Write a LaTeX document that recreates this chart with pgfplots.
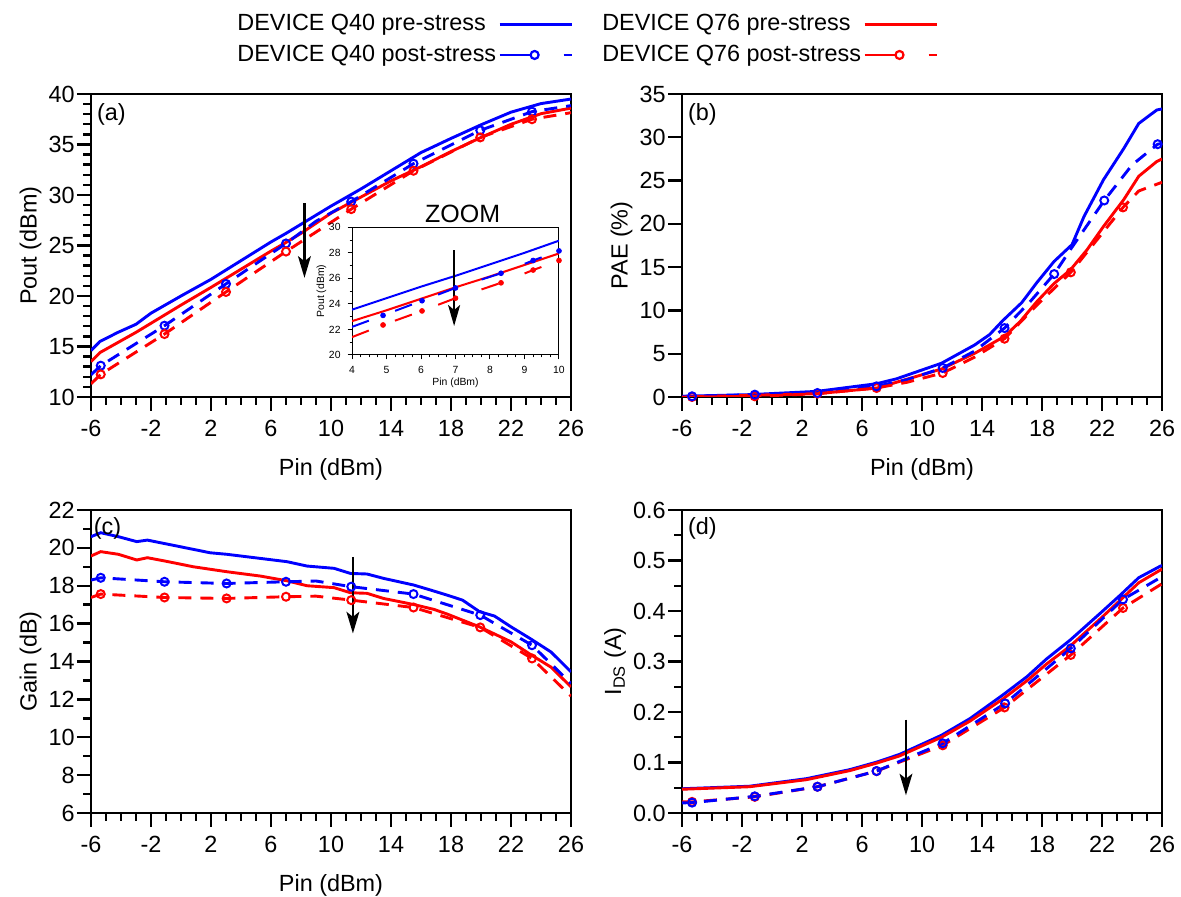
\documentclass[border=0pt]{standalone}
\usepackage{fontspec}
\setmainfont{Liberation Sans}
\usepackage{pgfplots}
\pgfplotsset{compat=1.18}
\usetikzlibrary{arrows.meta}
\newcommand{\mf}{\fontsize{11.7}{14}\selectfont}
\newcommand{\tinyf}{\fontsize{5.2}{6.2}\selectfont}
\definecolor{qb}{RGB}{0,0,255}
\definecolor{qr}{RGB}{255,0,0}
\tikzset{arr/.style={black, line width=1.15pt, -{Stealth[length=10.8pt, width=6.4pt, inset=2.5pt]}}}

\pgfplotsset{
 panel/.style={
  scale only axis, width=240pt, height=151.5pt, anchor=south west,
  xmin=-6, xmax=26, xtick={-6,-2,...,26}, minor x tick num=3,
  tick align=outside, tick pos=left,
  major tick length=7pt, minor tick length=3.8pt,
  axis line style={line width=1.35pt},
  every tick/.append style={black, line width=1.2pt},
  tick label style={font=\mf},
  label style={font=\mf},
  /pgf/number format/assume math mode=true,
  xticklabel style={inner sep=0pt, text height=8.4pt, text depth=0pt, yshift=-4.25pt},
  yticklabel style={inner sep=0pt, xshift=-1pt},
  xlabel style={at={(axis description cs:0.5,-0.2607)}, anchor=base},
 },
 pre/.style={line width=1.45pt, solid},
 post/.style={line width=1.45pt, dash pattern=on 6.5pt off 4.5pt},
 mk/.style={only marks, mark=o, mark size=2pt, mark options={solid, line width=1pt}},
 preleg/.style={legend image code/.code={\draw[##1] (0pt,0pt) -- (36pt,0pt);}},
 postleg/.style={legend image code/.code={
   \draw[##1, solid] (0pt,0pt) -- (15pt,0pt);
   \draw[##1, solid, line width=1.1pt, fill=white] (17.5pt,0pt) circle (2pt);
   \draw[##1, solid] (32pt,0pt) -- (36pt,0pt);}},
}

\begin{document}
\begin{tikzpicture}
\useasboundingbox (0,0) rectangle (590.5pt,448.5pt);

% ---------------- (a) ----------------
\begin{axis}[panel, at={(45.5pt,250pt)},
  ymin=10, ymax=40, ytick={10,15,...,40}, minor y tick num=4,
  xlabel={Pin (dBm)}, ylabel={Pout (dBm)},
  legend columns=2, legend plot pos=right, legend cell align=left,
  legend style={at={(0.2958,1.277)}, anchor=north west, draw=none, fill=none,
    inner sep=0pt, font=\mf, row sep=1.75pt, column sep=-1pt,
    /tikz/every even column/.append style={column sep=12.6pt}},
]
\addplot[pre, qb, preleg] coordinates {(-6,14.6) (-5.4,15.5) (-4.2,16.4) (-3,17.2) (-2,18.3) (0,20.0) (2,21.65) (4,23.5) (6,25.35) (7,26.2) (8,27.1) (10,28.9) (12,30.6) (14,32.4) (16,34.2) (18,35.6) (20,36.95) (22,38.2) (24,39.05) (26,39.5)};
\addlegendentry{DEVICE Q40 pre-stress}
\addplot[pre, qr, preleg] coordinates {(-6,13.5) (-5.4,14.4) (-3,16.4) (-2,17.3) (0,19.1) (2,20.85) (4,22.65) (6,24.45) (7,25.3) (8,26.2) (10,28.2) (12,29.8) (14,31.4) (16,32.8) (18,34.3) (20,35.7) (22,37.0) (24,38.05) (26,38.6)};
\addlegendentry{DEVICE Q76 pre-stress}
\addplot[post, qb, postleg] coordinates {(-6,12.2) (-5.35,13.1) (-1.1,17.06) (3.0,21.2) (7.0,25.2) (9,27.4) (11.35,29.35) (15.5,33.1) (19.95,36.4) (23.4,38.25) (26,38.85)};
\addlegendentry{DEVICE Q40 post-stress}
\addplot[post, qr, postleg] coordinates {(-6,11.3) (-5.35,12.24) (-1.1,16.23) (3.0,20.4) (7.0,24.4) (11.35,28.6) (15.5,32.4) (19.95,35.7) (23.4,37.5) (26,38.15)};
\addlegendentry{DEVICE Q76 post-stress}
\addplot[mk, qb, forget plot] coordinates {(-5.35,13.1) (-1.1,17.06) (3.0,21.2) (7.0,25.2) (11.35,29.35) (15.5,33.1) (19.95,36.4) (23.4,38.25)};
\addplot[mk, qr, forget plot] coordinates {(-5.35,12.24) (-1.1,16.23) (3.0,20.4) (7.0,24.4) (11.35,28.6) (15.5,32.4) (19.95,35.7) (23.4,37.5)};
\draw[arr] (axis cs:8.23,29.2) -- (axis cs:8.23,21.8);
\node[font=\fontsize{12.5}{15}\selectfont] at (axis cs:18.78,28.1) {ZOOM};
\node[anchor=north west, inner sep=0pt, font=\mf] at (axis description cs:0.012,0.97) {(a)};
\end{axis}

% ---------------- inset ----------------
\begin{axis}[scale only axis, width=103.5pt, height=63.85pt, at={(176pt,271pt)}, anchor=south west,
  xmin=4, xmax=10, ymin=20, ymax=30, xtick={4,...,10}, ytick={20,22,...,30},
  minor x tick num=3, minor y tick num=1, tick align=outside, tick pos=left,
  major tick length=2.2pt, minor tick length=1.2pt,
  axis line style={line width=0.5pt}, every tick/.append style={black, line width=0.5pt},
  tick label style={font=\tinyf}, label style={font=\tinyf},
  /pgf/number format/assume math mode=true,
  xlabel={Pin (dBm)}, ylabel={Pout (dBm)},
  xlabel style={at={(axis description cs:0.5,-0.217)}, anchor=center},
  ylabel style={at={(axis description cs:-0.148,0.5)}, anchor=center},
  axis background/.style={fill=white},
]
\addplot[qb, line width=1pt] coordinates {(4,23.55) (5,24.45) (6,25.35) (7,26.2) (8,27.1) (9,28.0) (10,28.95)};
\addplot[qr, line width=1pt] coordinates {(4,22.65) (5,23.5) (6,24.4) (7,25.3) (8,26.15) (9,27.05) (10,27.95)};
\addplot[qb, line width=1pt, dash pattern=on 9pt off 14pt] coordinates {(4,22.2) (4.9,23.1) (6.03,24.25) (7.0,25.25) (8.32,26.4) (9.25,27.4) (10,28.15)};
\addplot[qr, line width=1pt, dash pattern=on 9pt off 14pt] coordinates {(4,21.4) (4.9,22.35) (6.03,23.45) (7.0,24.45) (8.32,25.65) (9.25,26.65) (10,27.4)};
\addplot[qb, only marks, mark=*, mark size=1.2pt] coordinates {(4.9,23.1) (6.03,24.25) (7.0,25.25) (8.32,26.4) (9.25,27.4) (10,28.15)};
\addplot[qr, only marks, mark=*, mark size=1.2pt] coordinates {(4.9,22.35) (6.03,23.45) (7.0,24.45) (8.32,25.65) (9.25,26.65) (10,27.4)};
\draw[black, line width=1pt, -{Stealth[length=10.5pt, width=6pt, inset=2.5pt]}] (axis cs:6.96,28.2) -- (axis cs:6.96,22.27);
\end{axis}

% ---------------- (b) ----------------
\begin{axis}[panel, at={(341pt,250pt)},
  ymin=0, ymax=35, ytick={0,5,...,35},
  xlabel={Pin (dBm)}, ylabel={PAE (\%)},
]
\addplot[pre, qb] coordinates {(-6,0.08) (-1.5,0.27) (3,0.65) (7,1.54) (8.3,2.1) (11.3,3.9) (13.5,6.0) (14.5,7.2) (15.4,8.85) (16.65,10.9) (17.65,13.2) (18.8,15.65) (20,17.6) (20.8,20.85) (22.1,25.1) (23.45,28.7) (24.45,31.6) (25.65,33.15) (26,33.27)};
\addplot[pre, qr] coordinates {(-6,0) (3,0.38) (7,1.04) (11.3,3.23) (13.55,5.08) (15.5,7.0) (16.55,8.73) (17.65,11.0) (18.8,13.1) (19.9,14.7) (21,17.0) (22.1,19.7) (23.45,22.8) (24.45,25.5) (25.65,27.2) (26,27.5)};
\addplot[post, qb] coordinates {(-6,0.08) (-5.33,0.08) (-1.15,0.27) (3.03,0.46) (6.97,1.23) (9,2.0) (11.38,3.35) (13.5,5.3) (15.5,7.96) (17.2,11.0) (18.81,14.2) (20,17.3) (22.15,22.7) (24,26.8) (25.71,29.2) (26,29.3)};
\addplot[post, qr] coordinates {(-6,0) (-5.33,0) (-1.15,0.08) (3.03,0.38) (6.97,1.04) (9,1.7) (11.38,2.77) (13.5,4.6) (15.5,6.73) (17.65,10.6) (19.92,14.4) (21.5,17.8) (23.4,21.9) (24.45,23.8) (26,24.8)};
\addplot[mk, qr] coordinates {(-5.33,0) (-1.15,0.08) (3.03,0.38) (6.97,1.04) (11.38,2.77) (15.5,6.73) (19.92,14.4) (23.4,21.9)};
\addplot[mk, qb] coordinates {(-5.33,0.08) (-1.15,0.27) (3.03,0.46) (6.97,1.23) (11.38,3.35) (15.5,7.96) (18.81,14.2) (22.15,22.7) (25.71,29.2)};
\node[anchor=north west, inner sep=0pt, font=\mf] at (axis description cs:0.012,0.97) {(b)};
\end{axis}

% ---------------- (c) ----------------
\begin{axis}[panel, at={(45.5pt,42pt)},
  ymin=6, ymax=22, ytick={6,8,...,22}, minor y tick num=1,
  xlabel={Pin (dBm)}, ylabel={Gain (dB)},
]
\addplot[pre, qb] coordinates {(-6,20.59) (-5.35,20.8) (-4.17,20.59) (-2.95,20.33) (-2.24,20.41) (-1.17,20.24) (1.95,19.74) (3.06,19.66) (7.07,19.27) (8.4,19.04) (10.2,18.92) (11.3,18.65) (12.4,18.62) (13.5,18.39) (15.5,18.04) (16.65,17.77) (17.76,17.5) (18.77,17.24) (19.9,16.63) (20.9,16.4) (22.0,15.83) (23.3,15.2) (24.67,14.5) (26,13.45)};
\addplot[pre, qr] coordinates {(-6,19.57) (-5.35,19.8) (-4.17,19.66) (-2.95,19.36) (-2.24,19.48) (-1.17,19.32) (0.84,19.0) (3.06,18.74) (5.3,18.51) (7.07,18.26) (8.4,18.0) (10.2,17.9) (11.3,17.63) (12.4,17.6) (13.5,17.33) (15.5,17.01) (16.87,16.75) (17.76,16.5) (19.9,15.83) (22.0,15.04) (23.3,14.37) (24.67,13.7) (26,12.66)};
\addplot[post, qb] coordinates {(-6,18.3) (-5.35,18.42) (-1.1,18.21) (3.04,18.12) (7.0,18.21) (9,18.25) (11.35,17.95) (15.5,17.56) (19.95,16.45) (23.4,14.86) (26,12.84)};
\addplot[post, qr] coordinates {(-6,17.38) (-5.35,17.56) (-1.1,17.38) (3.04,17.33) (7.0,17.42) (9,17.45) (11.35,17.24) (15.5,16.85) (19.95,15.8) (23.4,14.16) (26,12.17)};
\addplot[mk, qb] coordinates {(-5.35,18.42) (-1.1,18.21) (3.04,18.12) (7.0,18.21) (11.35,17.95) (15.5,17.56) (19.95,16.45) (23.4,14.86)};
\addplot[mk, qr] coordinates {(-5.35,17.56) (-1.1,17.38) (3.04,17.33) (7.0,17.42) (11.35,17.24) (15.5,16.85) (19.95,15.8) (23.4,14.16)};
\draw[arr] (axis cs:11.46,19.53) -- (axis cs:11.46,15.48);
\node[anchor=north west, inner sep=0pt, font=\mf] at (axis description cs:0.005,0.975) {(c)};
\end{axis}

% ---------------- (d) ----------------
\begin{axis}[panel, at={(341pt,42pt)},
  ymin=0, ymax=0.6, ytick={0,0.1,...,0.6}, minor y tick num=1,
  yticklabel style={/pgf/number format/.cd, fixed, fixed zerofill, precision=1},
  ylabel={I\textsubscript{DS} (A)},
]
\addplot[pre, qb] coordinates {(-6,0.048) (-1.5,0.053) (2.3,0.068) (5.2,0.086) (7,0.101) (8.5,0.116) (11.3,0.154) (13.2,0.187) (15.4,0.234) (17,0.27) (18.3,0.305) (19.9,0.343) (21.9,0.396) (23.2,0.431) (24.45,0.466) (25.9,0.489) (26,0.49)};
\addplot[pre, qr] coordinates {(-6,0.047) (-1.5,0.052) (2.3,0.066) (5.2,0.084) (7,0.099) (8.5,0.113) (11.3,0.150) (13.2,0.182) (15.4,0.226) (17,0.262) (18.3,0.295) (19.9,0.331) (21.9,0.385) (23.2,0.421) (24.45,0.456) (26,0.483)};
\addplot[post, qr] coordinates {(-6,0.022) (-5.33,0.022) (-1.15,0.032) (3.03,0.052) (6.97,0.083) (11.38,0.134) (15.5,0.209) (19.92,0.313) (23.4,0.406) (26,0.454)};
\addplot[post, qb] coordinates {(-6,0.020) (-5.33,0.0205) (-1.15,0.033) (3.03,0.052) (6.97,0.083) (11.38,0.138) (15.54,0.217) (19.92,0.326) (23.4,0.423) (26,0.468)};
\addplot[mk, qr] coordinates {(-5.33,0.022) (-1.15,0.032) (3.03,0.052) (6.97,0.083) (11.38,0.134) (15.5,0.209) (19.92,0.313) (23.4,0.406)};
\addplot[mk, qb] coordinates {(-5.33,0.0205) (-1.15,0.033) (3.03,0.052) (6.97,0.083) (11.38,0.138) (15.54,0.217) (19.92,0.326) (23.4,0.423)};
\draw[arr] (axis cs:8.93,0.185) -- (axis cs:8.93,0.035);
\node[anchor=north west, inner sep=0pt, font=\mf] at (axis description cs:0.012,0.975) {(d)};
\end{axis}
\end{tikzpicture}
\end{document}
